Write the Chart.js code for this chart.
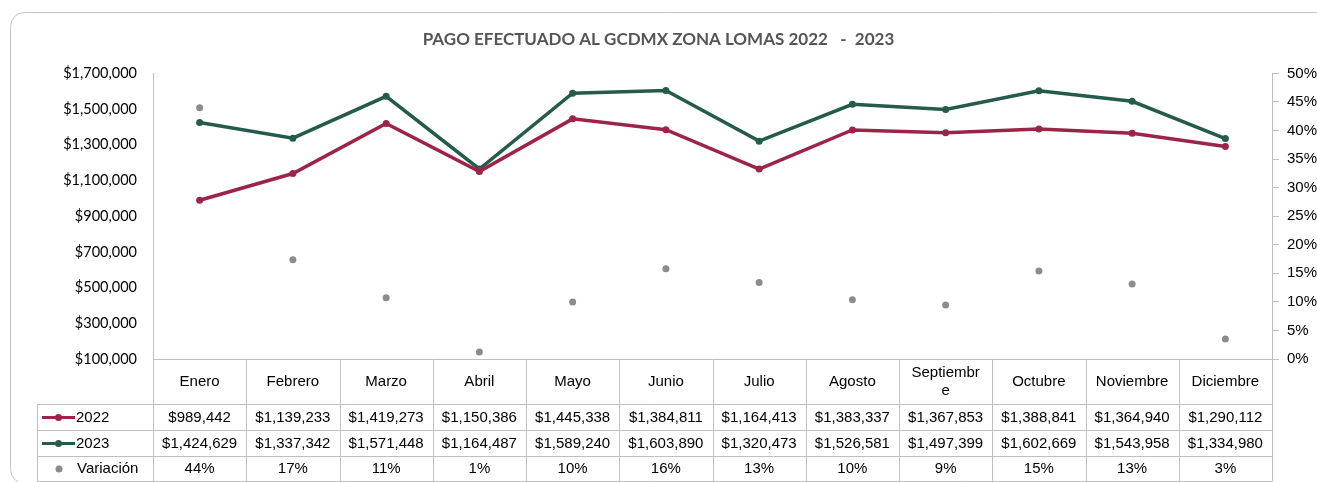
<!DOCTYPE html>
<html>
<head>
<meta charset="utf-8">
<script src="https://cdn.jsdelivr.net/npm/chart.js@4.4.1/dist/chart.umd.min.js"></script>
<style>
  html, body { margin: 0; padding: 0; background: #fff; }
  #grafico { display: block; }
</style>
</head>
<body>
<canvas id="grafico" width="1317" height="482"></canvas>
<script>
const meses = ["Enero", "Febrero", "Marzo", "Abril", "Mayo", "Junio", "Julio", "Agosto", "Septiembre", "Octubre", "Noviembre", "Diciembre"];
const pago2022 = [989442, 1139233, 1419273, 1150386, 1445338, 1384811, 1164413, 1383337, 1367853, 1388841, 1364940, 1290112];
const pago2023 = [1424629, 1337342, 1571448, 1164487, 1589240, 1603890, 1320473, 1526581, 1497399, 1602669, 1543958, 1334980];
const variacion = [0.4398, 0.1739, 0.1072, 0.0123, 0.0996, 0.1582, 0.1340, 0.1036, 0.0947, 0.1540, 0.1312, 0.0348];

const rojo = "#9d2449";
const verde = "#245b4c";
const gris = "#8c8c8c";
const linea = "#bfbfbf";
const fuenteTabla = "Liberation Sans, Arial, sans-serif";

const dinero = v => "$" + v.toLocaleString("en-US");
const pct = v => Math.round(v * 100) + "%";

// marco redondeado del gráfico
const marco = {
  id: "marco",
  beforeDraw(chart) {
    const c = chart.ctx;
    c.save();
    c.fillStyle = "#fff";
    c.fillRect(0, 0, chart.width, chart.height);
    c.strokeStyle = "#c4c4c4";
    c.lineWidth = 1;
    c.beginPath();
    c.roundRect(10.5, 12.5, 1400, 471, 14);
    c.stroke();
    c.restore();
  }
};

// tabla de datos debajo del área del gráfico
const tablaDatos = {
  id: "tablaDatos",
  afterDraw(chart) {
    const c = chart.ctx;
    const area = chart.chartArea;
    const x = chart.scales.x;
    const n = meses.length;
    const ancho = (area.right - area.left) / n;
    const top = area.bottom;
    const filas = [404, 430, 456, 481];
    const izq = 37;

    c.save();
    c.strokeStyle = linea;
    c.lineWidth = 1;
    c.beginPath();
    // línea del eje x
    c.moveTo(area.left, top + 0.5);
    c.lineTo(area.right, top + 0.5);
    filas.forEach(y => {
      c.moveTo(izq, y + 0.5);
      c.lineTo(area.right, y + 0.5);
    });
    for (let i = 0; i <= n; i++) {
      const xx = Math.round(area.left + i * ancho) + 0.5;
      c.moveTo(xx, top);
      c.lineTo(xx, filas[3] + 0.5);
    }
    c.moveTo(izq + 0.5, filas[0]);
    c.lineTo(izq + 0.5, filas[3] + 0.5);
    c.stroke();

    c.fillStyle = "#000";
    c.font = "15px " + fuenteTabla;
    c.textAlign = "center";
    c.textBaseline = "middle";

    meses.forEach((m, i) => {
      const cx = x.getPixelForValue(i);
      if (c.measureText(m).width > 74) {
        // partir la palabra como lo hace Excel
        let corte = m.length;
        while (c.measureText(m.slice(0, corte)).width > 74) corte--;
        c.fillText(m.slice(0, corte), cx, 373);
        c.fillText(m.slice(corte), cx, 391);
      } else {
        c.fillText(m, cx, 382);
      }
      c.fillText(dinero(pago2022[i]), cx, 417.5);
      c.fillText(dinero(pago2023[i]), cx, 443.5);
      c.fillText(pct(variacion[i]), cx, 469);
    });

    // claves de la leyenda
    const claves = [
      { txt: "2022", color: rojo, y: 417.5, lineaClave: true },
      { txt: "2023", color: verde, y: 443.5, lineaClave: true },
      { txt: "Variación", color: gris, y: 469, lineaClave: false }
    ];
    claves.forEach(k => {
      c.fillStyle = k.color;
      c.strokeStyle = k.color;
      if (k.lineaClave) {
        c.lineWidth = 3;
        c.beginPath();
        c.moveTo(42, k.y);
        c.lineTo(75, k.y);
        c.stroke();
        c.beginPath();
        c.arc(58.5, k.y, 3.5, 0, Math.PI * 2);
        c.fill();
      } else {
        c.beginPath();
        c.arc(59, k.y, 3.5, 0, Math.PI * 2);
        c.fill();
      }
      c.fillStyle = "#000";
      c.textAlign = "left";
      c.fillText(k.txt, k.lineaClave ? 76 : 77, k.y);
    });
    c.restore();
  }
};

const ctx = document.getElementById("grafico").getContext("2d");
const chart = new Chart(ctx, {
  type: "line",
  data: {
    labels: meses,
    datasets: [
      {
        label: "2022",
        data: pago2022,
        borderColor: rojo,
        backgroundColor: rojo,
        borderWidth: 3.5,
        pointRadius: 3.5,
        pointBorderWidth: 0,
        yAxisID: "y"
      },
      {
        label: "2023",
        data: pago2023,
        borderColor: verde,
        backgroundColor: verde,
        borderWidth: 3.5,
        pointRadius: 3.5,
        pointBorderWidth: 0,
        yAxisID: "y"
      },
      {
        label: "Variación",
        data: variacion,
        showLine: false,
        borderColor: gris,
        backgroundColor: gris,
        pointRadius: 3.5,
        pointBorderWidth: 0,
        yAxisID: "y1"
      }
    ]
  },
  options: {
    responsive: false,
    animation: false,
    layout: { padding: { top: 0, bottom: 123, left: 0, right: 0 } },
    plugins: {
      legend: { display: false },
      tooltip: { enabled: false },
      title: {
        display: true,
        text: "PAGO EFECTUADO AL GCDMX ZONA LOMAS 2022   -  2023",
        color: "#555555",
        font: { family: "Lato", size: 17, weight: "bold" },
        padding: { top: 29, bottom: 24 }
      }
    },
    scales: {
      x: {
        display: false,
        offset: true
      },
      y: {
        position: "left",
        min: 100000,
        max: 1700000,
        grid: { display: false },
        border: { display: true, color: linea },
        ticks: {
          stepSize: 200000,
          padding: 8,
          color: "#000",
          font: { family: "Lato", size: 14.5 },
          callback: v => dinero(v)
        },
        afterFit: s => { s.width = 153; }
      },
      y1: {
        position: "right",
        min: 0,
        max: 0.5,
        grid: { drawOnChartArea: false, drawTicks: true, tickLength: 7, color: linea },
        border: { display: true, color: linea },
        ticks: {
          stepSize: 0.05,
          padding: 8,
          color: "#000",
          font: { family: "Liberation Sans", size: 15 },
          callback: v => pct(v)
        },
        afterFit: s => { s.width = 45; }
      }
    }
  },
  plugins: [marco, tablaDatos]
});
</script>
</body>
</html>
